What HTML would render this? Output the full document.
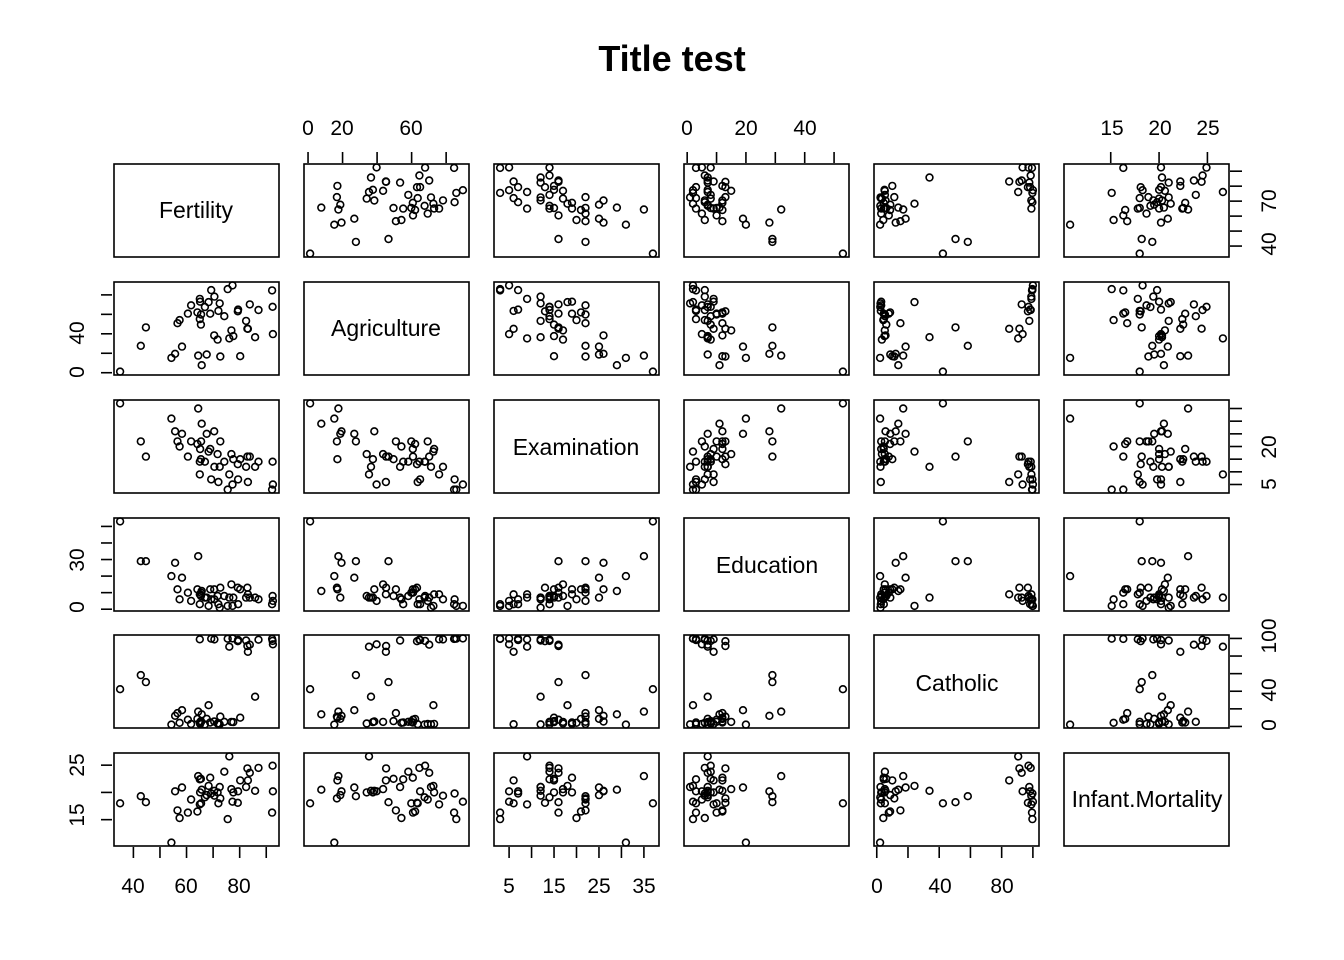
<!DOCTYPE html>
<html><head><meta charset="utf-8"><style>
html,body{margin:0;padding:0;background:#fff;}
svg{display:block;font-family:"Liberation Sans",Arial,sans-serif;}
</style></head><body>
<svg id="s" width="1344" height="960" viewBox="0 0 1344 960" xmlns="http://www.w3.org/2000/svg">
<rect width="1344" height="960" fill="#fff"/>
<text x="672" y="71" font-size="36" font-weight="bold" text-anchor="middle">Title test</text>
<g font-size="23" text-anchor="middle">
<text x="196" y="218">Fertility</text>
<text x="386" y="336">Agriculture</text>
<text x="576" y="455">Examination</text>
<text x="767" y="573">Education</text>
<text x="957" y="691">Catholic</text>
<text x="1147" y="807">Infant.Mortality</text>
</g>
<g font-size="21" text-anchor="middle">
<text x="308" y="135">0</text><text x="342" y="135">20</text><text x="411" y="135">60</text>
<text x="687" y="135">0</text><text x="746" y="135">20</text><text x="805" y="135">40</text>
<text x="1112" y="135">15</text><text x="1160" y="135">20</text><text x="1208" y="135">25</text>
<text x="133" y="893">40</text><text x="186" y="893">60</text><text x="239" y="893">80</text>
<text x="509" y="893">5</text><text x="554" y="893">15</text><text x="599" y="893">25</text><text x="644" y="893">35</text>
<text x="877" y="893">0</text><text x="940" y="893">40</text><text x="1002" y="893">80</text>
<text transform="translate(1276,201) rotate(-90)">70</text>
<text transform="translate(1276,244) rotate(-90)">40</text>
<text transform="translate(1276,447) rotate(-90)">20</text>
<text transform="translate(1276,484) rotate(-90)">5</text>
<text transform="translate(1276,725) rotate(-90)">0</text>
<text transform="translate(1276,690) rotate(-90)">40</text>
<text transform="translate(1276,636) rotate(-90)">100</text>
<text transform="translate(84,372) rotate(-90)">0</text>
<text transform="translate(84,333) rotate(-90)">40</text>
<text transform="translate(84,607) rotate(-90)">0</text>
<text transform="translate(84,560) rotate(-90)">30</text>
<text transform="translate(84,815) rotate(-90)">15</text>
<text transform="translate(84,765) rotate(-90)">25</text>
</g>
<g id="g" fill="none" stroke="#000" stroke-width="1.6"></g>
</svg>
<script>
var D=[[80.2,17,15,12,9.96,22.2],[83.1,45.1,6,9,84.84,22.2],[92.5,39.7,5,5,93.4,20.2],[85.8,36.5,12,7,33.77,20.3],[76.9,43.5,17,15,5.16,20.6],[76.1,35.3,9,7,90.57,26.6],[83.8,70.2,16,7,92.85,23.6],[92.4,67.8,14,8,97.16,24.9],[82.4,53.3,12,7,97.67,21],[82.9,45.2,16,13,91.38,24.4],[87.1,64.5,14,6,98.61,24.5],[64.1,62,21,12,8.52,16.5],[66.9,67.5,14,7,2.27,19.1],[68.9,60.7,19,12,4.43,22.7],[61.7,69.3,22,5,2.82,18.7],[68.3,72.6,18,2,24.2,21.2],[71.7,34,17,8,3.3,20],[55.7,19.4,26,28,12.11,20.2],[54.3,15.2,31,20,2.15,10.8],[65.1,73,19,9,2.84,20],[65.5,59.8,22,10,5.23,18],[65,55.1,14,3,4.52,22.4],[56.6,50.9,22,12,15.14,16.7],[57.4,54.1,20,6,4.2,15.3],[72.5,71.2,12,1,2.4,21],[74.2,58.1,14,8,5.23,23.8],[72,63.5,6,3,2.56,18],[60.5,60.8,16,10,7.72,16.3],[58.3,26.8,25,19,18.46,20.9],[65.4,49.5,15,8,6.1,22.5],[75.5,85.9,3,2,99.71,15.1],[69.3,84.9,7,6,99.68,19.8],[77.3,89.7,5,2,100,18.3],[70.5,78.2,12,6,98.96,19.4],[79.4,64.9,7,3,98.22,20.2],[65,75.9,9,9,99.06,17.8],[92.2,84.6,3,3,99.46,16.3],[79.3,63.1,13,13,96.83,18.1],[70.4,38.4,26,12,5.62,20.3],[65.7,7.7,29,11,13.79,20.5],[72.7,16.7,22,13,11.22,18.9],[64.4,17.6,35,32,16.92,23],[77.6,37.6,15,7,4.97,20],[67.6,18.7,25,7,8.65,19.5],[35,1.2,37,53,42.34,18],[44.7,46.6,16,29,50.43,18.2],[42.8,27.7,22,29,58.33,19.3]];
var X=[114,304,494,684,874,1064],Y=[164,282,400,518,635,753],W=165,H=93;
var U=[];for(var k=0;k<6;k++){var a=1e9,b=-1e9;D.forEach(function(r){a=Math.min(a,r[k]);b=Math.max(b,r[k]);});var d=b-a;U.push([a-0.04*d,b+0.04*d]);}
function px(k,v){return X[k]+(v-U[k][0])/(U[k][1]-U[k][0])*W;}
function py(k,v){return Y[k]+H-(v-U[k][0])/(U[k][1]-U[k][0])*H;}
var h='';
for(var i=0;i<6;i++)for(var j=0;j<6;j++){
h+='<rect x="'+X[j]+'" y="'+Y[i]+'" width="'+W+'" height="'+H+'"/>';
if(i!=j)D.forEach(function(r){h+='<circle cx="'+px(j,r[j]).toFixed(1)+'" cy="'+py(i,r[i]).toFixed(1)+'" r="3.4"/>';});}
var T=[[40,50,60,70,80,90],[0,20,40,60,80],[5,10,15,20,25,30,35],[0,10,20,30,40,50],[0,20,40,60,80,100],[15,20,25]];
function axX(k,y0,y1){T[k].forEach(function(v){var x=px(k,v);h+='<line x1="'+x+'" y1="'+y0+'" x2="'+x+'" y2="'+y1+'"/>';});}
function axY(k,x0,x1){T[k].forEach(function(v){var y=py(k,v);h+='<line x1="'+x0+'" y1="'+y+'" x2="'+x1+'" y2="'+y+'"/>';});}
axX(1,152,163);axX(3,152,163);axX(5,152,163);
axX(0,847,858);axX(2,847,858);axX(4,847,858);
axY(0,1230,1242);axY(2,1230,1242);axY(4,1230,1242);
axY(1,101,112);axY(3,101,112);axY(5,101,112);
document.getElementById('g').innerHTML=h;
</script>
</body></html>
